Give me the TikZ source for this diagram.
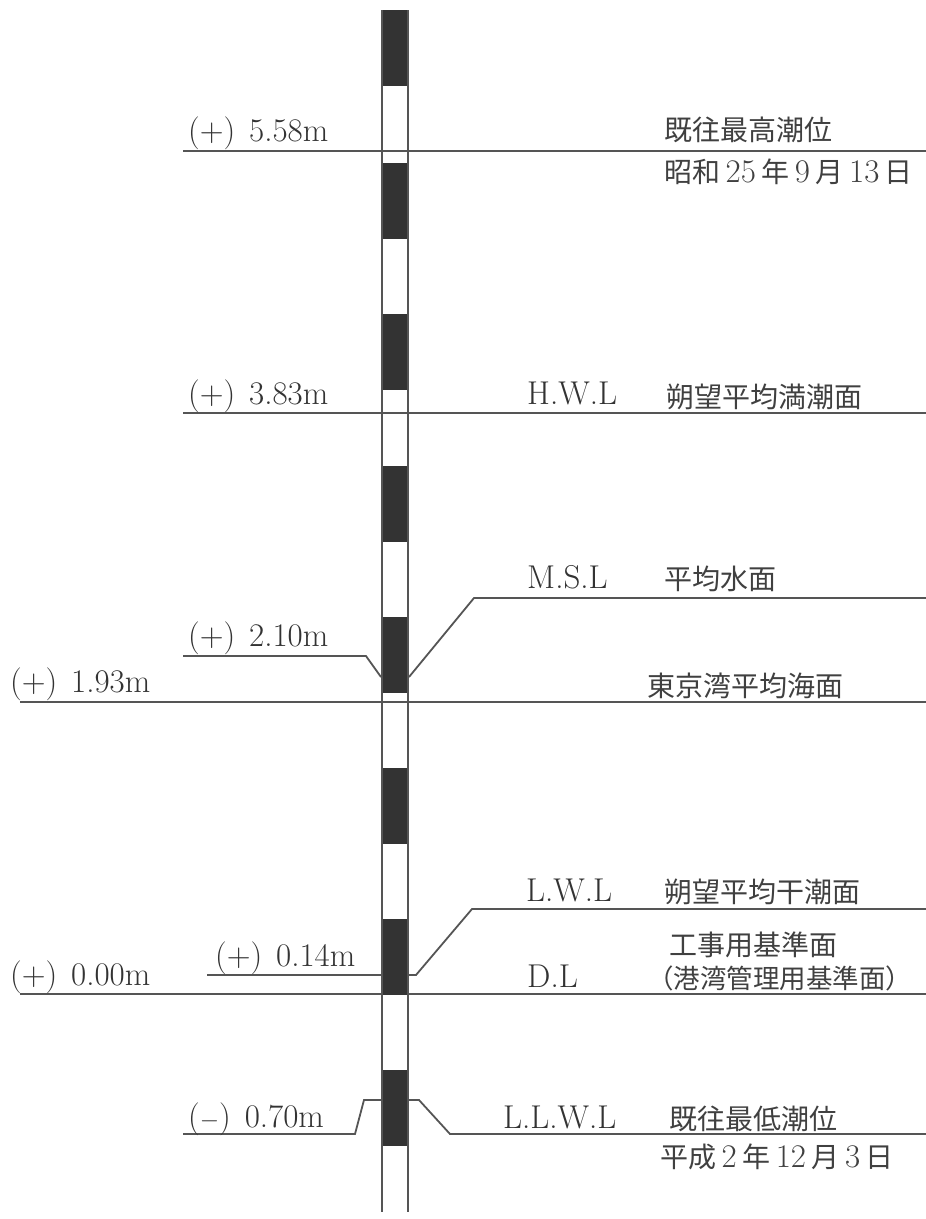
\documentclass[tikz,border=0pt]{standalone}
\usepackage{fontspec}
\newfontfamily\cjk{Noto Sans CJK JP}
\definecolor{ink}{HTML}{333333}
\definecolor{jink}{HTML}{404040}
\definecolor{ln}{HTML}{555555}
\newcommand\numtx[1]{{\rmfamily\fontsize{33}{36}\selectfont #1}}
\newcommand\gapx{\hspace{0.42em}}
\newcommand\dgap{\hspace{5.5pt}}
\begin{document}
\begin{tikzpicture}[x=1pt,y=-1pt,
  lvl/.style={draw=ln, line width=1.8pt},
  lat/.style={anchor=base west, inner sep=0pt, text=ink, font=\fontsize{33}{36}\selectfont},
  jp/.style={anchor=west, inner sep=0pt, text=jink, font=\cjk\fontsize{28}{34}\selectfont}]
\useasboundingbox (0,0) rectangle (926,1219);
% level lines
\coordinate (a1) at (183,151);  \coordinate (a2) at (926,151);
\coordinate (b1) at (183,413);  \coordinate (b2) at (926,413);
\coordinate (c1) at (20,702);   \coordinate (c2) at (926,702);
\coordinate (d1) at (20,994);   \coordinate (d2) at (926,994);
\draw[lvl] (a1) -- (a2);
\draw[lvl] (b1) -- (b2);
\draw[lvl] (c1) -- (c2);
\draw[lvl] (d1) -- (d2);
% leaders
\coordinate (m1) at (926,598); \coordinate (m2) at (474,598); \coordinate (m3) at (409,677);
\draw[lvl] (m1) -- (m2) -- (m3);
\coordinate (p1) at (183,656); \coordinate (p2) at (366,656); \coordinate (p3) at (381,677);
\draw[lvl] (p1) -- (p2) -- (p3);
\coordinate (l1) at (926,909); \coordinate (l2) at (472,909); \coordinate (l3) at (416,975); \coordinate (l4) at (409,975);
\draw[lvl] (l1) -- (l2) -- (l3) -- (l4);
\coordinate (q1) at (207,975); \coordinate (q2) at (381,975);
\draw[lvl] (q1) -- (q2);
\coordinate (r1) at (183,1134); \coordinate (r2) at (355,1134); \coordinate (r3) at (364,1100); \coordinate (r4) at (381,1100);
\draw[lvl] (r1) -- (r2) -- (r3) -- (r4);
\coordinate (s1) at (409,1100); \coordinate (s2) at (419,1100); \coordinate (s3) at (450,1134); \coordinate (s4) at (926,1134);
\draw[lvl] (s1) -- (s2) -- (s3) -- (s4);
% staff
\foreach \y in {10,163,314,466,617,768,919,1070}
  \fill[ink] (381,\y) rectangle (409,\y+76);
\draw[ln, line width=2pt] (382,10) -- (382,1212);
\draw[ln, line width=2pt] (408,10) -- (408,1212);
% left values
\node[lat] (v1) at (188,141) {(+)\gapx 5.58m};
\node[lat] (v2) at (188,404) {(+)\gapx 3.83m};
\node[lat] (v3) at (188,646) {(+)\gapx 2.10m};
\node[lat] (v4) at (10,692) {(+)\gapx 1.93m};
\node[lat] (v5) at (215,966) {(+)\gapx 0.14m};
\node[lat] (v6) at (10,985) {(+)\gapx 0.00m};
\node[lat] (v7) at (188,1127) {($-$)\gapx 0.70m};
% abbreviations
\node[lat] (h1) at (527,404) {H.W.L};
\node[lat] (h2) at (527,588) {M.S.L};
\node[lat] (h3) at (526,901) {L.W.L};
\node[lat] (h4) at (527,987) {D.L};
\node[lat] (h5) at (503,1128) {L.L.W.L};
% japanese labels
\node[jp] (j1) at (664,130) {既往最高潮位};
\node[jp] (j2) at (664,172) {昭和\dgap\numtx{25}\dgap 年\dgap\numtx{9}\dgap 月\dgap\numtx{13}\dgap 日};
\node[jp] (j3) at (666,397) {朔望平均満潮面};
\node[jp] (j4) at (664,579) {平均水面};
\node[jp] (j5) at (647,686) {東京湾平均海面};
\node[jp] (j6) at (664,892) {朔望平均干潮面};
\node[jp] (j7) at (669,945) {工事用基準面};
\node[jp, font=\cjk\fontsize{26.5}{32}\selectfont] (j8) at (647,978) {（港湾管理用基準面）};
\node[jp] (j9) at (669,1119) {既往最低潮位};
\node[jp] (j10) at (660,1157) {平成\dgap\numtx{2}\dgap 年\dgap\numtx{12}\dgap 月\dgap\numtx{3}\dgap 日};
\end{tikzpicture}
\end{document}
